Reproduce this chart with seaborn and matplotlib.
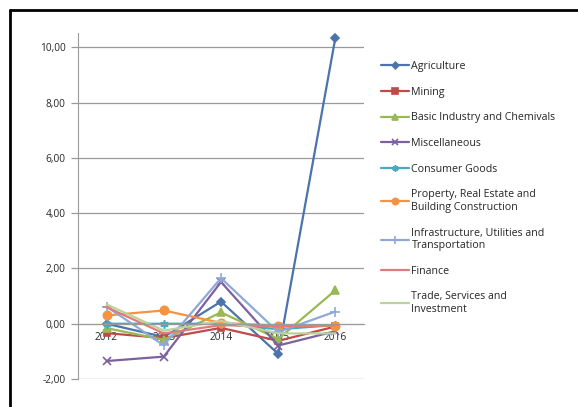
import numpy as np
import pandas as pd
import matplotlib
matplotlib.use("Agg")
import matplotlib.pyplot as plt
from matplotlib.lines import Line2D
from matplotlib.ticker import FuncFormatter
import seaborn as sns

years = [2012, 2013, 2014, 2015, 2016]
sectors = ["Agriculture", "Mining", "Basic Industry and Chemivals", "Miscellaneous",
           "Consumer Goods", "Property, Real Estate and\nBuilding Construction",
           "Infrastructure, Utilities and\nTransportation", "Finance",
           "Trade, Services and\nInvestment"]
agriculture = [0.00, -0.48, 0.80, -1.09, 10.35]
mining = [-0.34, -0.52, -0.15, -0.62, -0.10]
basic_industry = [-0.16, -0.58, 0.41, -0.55, 1.21]
miscellaneous = [-1.35, -1.19, 1.51, -0.79, -0.27]
consumer_goods = [0.00, 0.00, 0.00, -0.20, -0.05]
property_re = [0.30, 0.48, 0.03, -0.07, -0.07]
infrastructure = [0.62, -0.78, 1.65, -0.30, 0.44]
finance = [0.60, -0.35, -0.05, -0.10, -0.05]
trade = [0.70, -0.25, 0.10, -0.35, -0.35]

series = [agriculture, mining, basic_industry, miscellaneous, consumer_goods,
          property_re, infrastructure, finance, trade]
colors = ["#4A74AB", "#BE4B48", "#98B954", "#7D60A0", "#46AAC5",
          "#F69240", "#8EA9D8", "#E07B7B", "#B9D39B"]
markers = ["D", "s", "^", "x", (6, 2, 0), "o", "+", "_", ""]
msizes = [4.5, 5, 5.5, 6, 6, 6, 7, 6, 0]

sns.set_style("white")
plt.rcParams['font.family'] = ['Open Sans', 'DejaVu Sans']

fig = plt.figure(figsize=(5.78, 4.07), dpi=100)
ax = fig.add_axes([78/578, 1 - 379/407, (364 - 78)/578, (379 - 33)/407])

for name, vals, c, m, ms in zip(sectors, series, colors, markers, msizes):
    df = pd.DataFrame({"year": years, "value": vals})
    sns.lineplot(data=df, x="year", y="value", color=c, marker=m, markersize=ms,
                 mec=c, mfc=c, mew=1.2, lw=1.6, label=name, ax=ax)

ax.set_xlim(2011.5, 2016.5)
ax.set_ylim(-2, 10.52)
ax.set_yticks([-2, 0, 2, 4, 6, 8, 10])
ax.yaxis.set_major_formatter(FuncFormatter(lambda v, p: f"{v:.2f}".replace(".", ",")))
ax.set_xticks(years)
ax.set_xticklabels([str(y) for y in years])
ax.grid(True, axis="y", color="#9a9a9a", lw=0.9)
ax.set_axisbelow(True)
ax.set_xlabel("")
ax.set_ylabel("")

ax.spines['right'].set_color('none')
ax.spines['top'].set_color('none')
ax.spines['left'].set_color('#9a9a9a')
ax.spines['bottom'].set_position(('data', 0))
ax.spines['bottom'].set_color('#9a9a9a')
ax.tick_params(axis="y", direction="out", length=5, color="#9a9a9a", width=0.9,
               labelsize=7.3, pad=4, left=True)
ax.tick_params(axis="x", length=0, labelsize=7.3, pad=6)

ax.legend(loc="upper left", bbox_to_anchor=(381/578, 1 - 61/407),
          bbox_transform=fig.transFigure, frameon=False, fontsize=7.7,
          labelspacing=1.37, handlelength=2.6, handletextpad=0.25,
          markerscale=0.75, borderpad=0, borderaxespad=0)

# black frame on top and left
fig.add_artist(Line2D([10/578, 1], [1 - 10/407, 1 - 10/407], color="black", lw=2))
fig.add_artist(Line2D([10/578, 10/578], [0, 1 - 10/407], color="black", lw=2))

fig.savefig("out.png", dpi=100)
